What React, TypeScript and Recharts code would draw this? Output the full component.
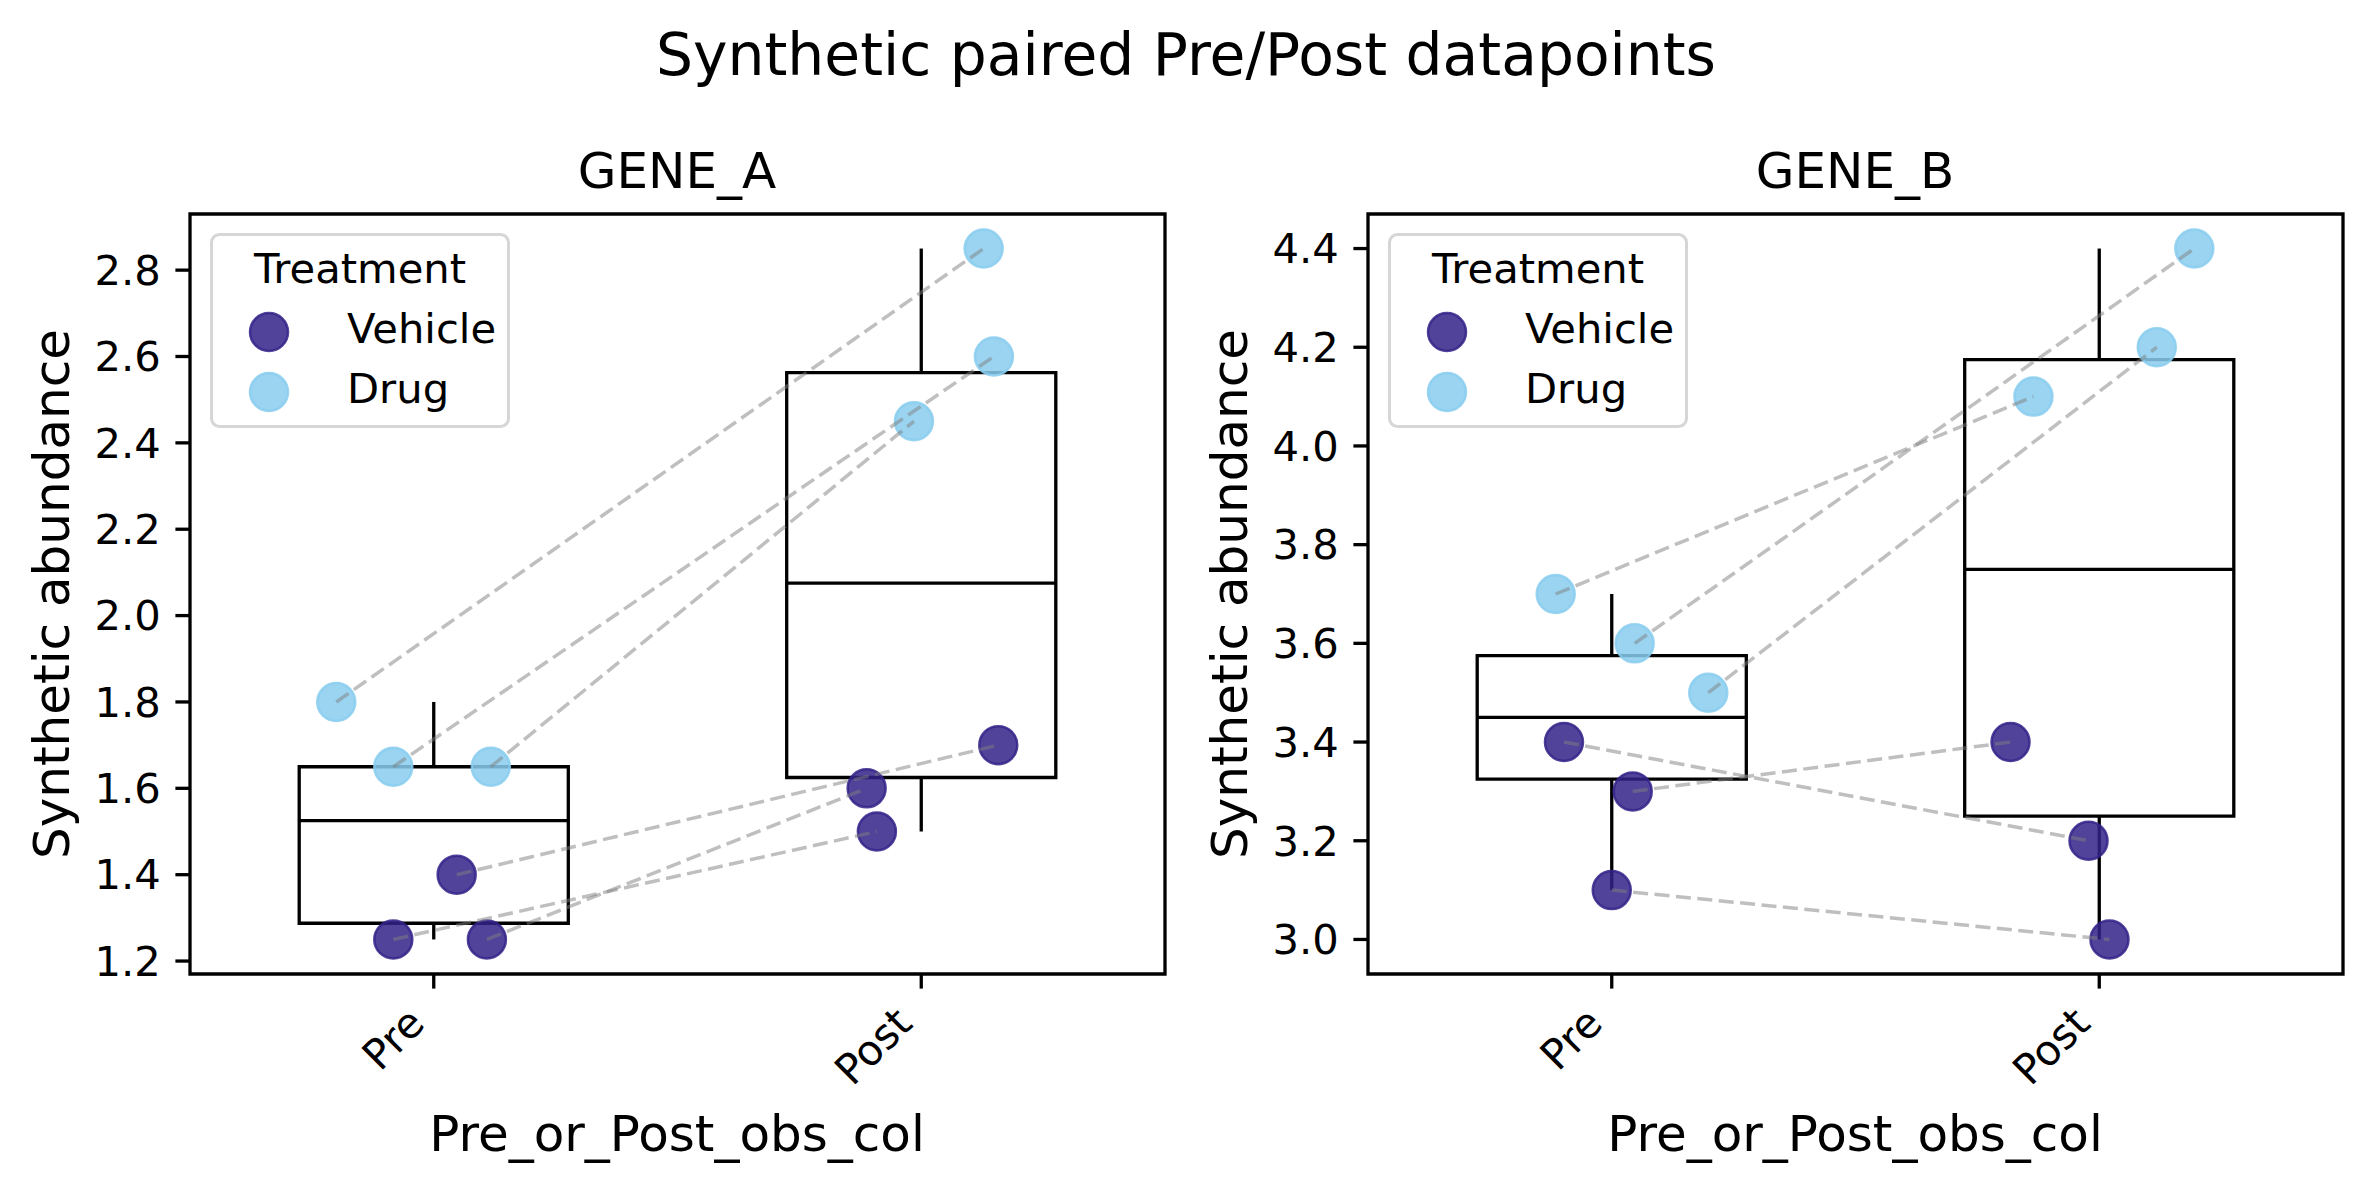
import React from "react";
import {
  ComposedChart,
  Scatter,
  XAxis,
  YAxis,
  ReferenceArea,
  ReferenceLine,
  Legend,
} from "recharts";

const FONT = "DejaVu Sans, sans-serif";
const CATEGORIES = ["Pre", "Post"];
const TREATMENTS = ["Vehicle", "Drug"];
const COLORS: Record<string, string> = { Vehicle: "#332288", Drug: "#88CCEE" };

// GENE_A values, one entry per subject (pre and post share the index)
const A_VEHICLE_PRE = [1.4, 1.25, 1.25];
const A_VEHICLE_POST = [1.7, 1.5, 1.6];
const A_DRUG_PRE = [1.8, 1.65, 1.65];
const A_DRUG_POST = [2.85, 2.6, 2.45];
// horizontal jitter of each point around its category
const A_VEHICLE_PRE_JIT = [0.047, -0.083, 0.109];
const A_VEHICLE_POST_JIT = [0.158, -0.091, -0.112];
const A_DRUG_PRE_JIT = [-0.2, -0.083, 0.117];
const A_DRUG_POST_JIT = [0.128, 0.149, -0.015];

// GENE_B
const B_VEHICLE_PRE = [3.4, 3.3, 3.1];
const B_VEHICLE_POST = [3.2, 3.4, 3.0];
const B_DRUG_PRE = [3.7, 3.6, 3.5];
const B_DRUG_POST = [4.1, 4.4, 4.2];
const B_VEHICLE_PRE_JIT = [-0.098, 0.043, 0.0];
const B_VEHICLE_POST_JIT = [-0.022, -0.182, 0.021];
const B_DRUG_PRE_JIT = [-0.115, 0.047, 0.198];
const B_DRUG_POST_JIT = [-0.135, 0.195, 0.118];

const A_TICKS = [1.2, 1.4, 1.6, 1.8, 2.0, 2.2, 2.4, 2.6, 2.8];
const B_TICKS = [3.0, 3.2, 3.4, 3.6, 3.8, 4.0, 4.2, 4.4];

const BOX_HALF = 0.276;
const LW = 3.3;

function quantile(vals: number[], q: number) {
  const s = [...vals].sort((a, b) => a - b);
  const pos = (s.length - 1) * q;
  const lo = Math.floor(pos);
  const hi = Math.ceil(pos);
  return s[lo] + (s[hi] - s[lo]) * (pos - lo);
}

const dot = (color: string) => (props: any) => (
  <circle
    cx={props.cx}
    cy={props.cy}
    r={19}
    fill={color}
    fillOpacity={0.85}
    stroke={color}
    strokeOpacity={0.85}
    strokeWidth={2.5}
  />
);

const XTick = (props: any) => {
  const { x, y, payload } = props;
  const ax = x - 7;
  const ay = y + 37;
  return (
    <text
      x={ax}
      y={ay}
      transform={`rotate(-45 ${ax} ${ay})`}
      textAnchor="end"
      fontSize={41.7}
      fontFamily={FONT}
      fill="#000"
    >
      {CATEGORIES[payload.value]}
    </text>
  );
};

const LegendBox = () => (
  <svg width={300} height={195} style={{ display: "block" }}>
    <rect x={1.5} y={1.5} width={297} height={192} rx={8} fill="#fff" fillOpacity={0.8} stroke="#d6d6d6" strokeWidth={3} />
    <text x={150} y={50} textAnchor="middle" fontSize={41.7} fontFamily={FONT} fill="#000">
      Treatment
    </text>
    {TREATMENTS.map((t, i) => (
      <g key={t}>
        <circle cx={59} cy={99 + i * 60} r={19} fill={COLORS[t]} fillOpacity={0.85} stroke={COLORS[t]} strokeOpacity={0.85} strokeWidth={2.5} />
        <text x={137} y={110 + i * 60} fontSize={41.7} fontFamily={FONT} fill="#000">
          {t}
        </text>
      </g>
    ))}
  </svg>
);

type PanelProps = {
  vehPre: number[];
  vehPost: number[];
  drugPre: number[];
  drugPost: number[];
  vehPreJit: number[];
  vehPostJit: number[];
  drugPreJit: number[];
  drugPostJit: number[];
  ticks: number[];
};

function Panel(p: PanelProps) {
  const all = [...p.vehPre, ...p.vehPost, ...p.drugPre, ...p.drugPost];
  const lo = Math.min(...all);
  const hi = Math.max(...all);
  const pad = (hi - lo) * 0.05;
  const domain: [number, number] = [lo - pad, hi + pad];

  const vehicle = [
    ...p.vehPre.map((y, i) => ({ x: p.vehPreJit[i], y })),
    ...p.vehPost.map((y, i) => ({ x: 1 + p.vehPostJit[i], y })),
  ];
  const drug = [
    ...p.drugPre.map((y, i) => ({ x: p.drugPreJit[i], y })),
    ...p.drugPost.map((y, i) => ({ x: 1 + p.drugPostJit[i], y })),
  ];
  const pairs = [
    ...p.vehPre.map((y, i) => [
      { x: p.vehPreJit[i], y },
      { x: 1 + p.vehPostJit[i], y: p.vehPost[i] },
    ]),
    ...p.drugPre.map((y, i) => [
      { x: p.drugPreJit[i], y },
      { x: 1 + p.drugPostJit[i], y: p.drugPost[i] },
    ]),
  ];
  const groups = [
    [...p.vehPre, ...p.drugPre],
    [...p.vehPost, ...p.drugPost],
  ];

  return (
    <ComposedChart
      width={1186}
      height={1190}
      margin={{ top: 214, right: 21, bottom: 0, left: 80 }}
    >
      <XAxis
        type="number"
        dataKey="x"
        domain={[-0.5, 1.5]}
        ticks={[0, 1]}
        allowDataOverflow
        height={216}
        axisLine={false}
        tickLine={{ stroke: "#000", strokeWidth: LW }}
        tickSize={14.6}
        tickMargin={0}
        tick={<XTick />}
      />
      <YAxis
        type="number"
        dataKey="y"
        domain={domain}
        ticks={p.ticks}
        allowDataOverflow
        width={110}
        axisLine={false}
        tickLine={{ stroke: "#000", strokeWidth: LW }}
        tickSize={14.6}
        tickMargin={14.6}
        tickFormatter={(v: number) => v.toFixed(1)}
        tick={{ fontSize: 41.7, fill: "#000", fontFamily: FONT }}
      />
      {groups.map((g, c) => {
        const q1 = quantile(g, 0.25);
        const med = quantile(g, 0.5);
        const q3 = quantile(g, 0.75);
        return (
          <React.Fragment key={c}>
            <ReferenceArea x1={c - BOX_HALF} x2={c + BOX_HALF} y1={q1} y2={q3} fill="none" stroke="#000" strokeWidth={LW} />
            <ReferenceLine segment={[{ x: c - BOX_HALF, y: med }, { x: c + BOX_HALF, y: med }]} stroke="#000" strokeWidth={LW} />
            <ReferenceLine segment={[{ x: c, y: q3 }, { x: c, y: Math.max(...g) }]} stroke="#000" strokeWidth={LW} />
            <ReferenceLine segment={[{ x: c, y: Math.min(...g) }, { x: c, y: q1 }]} stroke="#000" strokeWidth={LW} />
          </React.Fragment>
        );
      })}
      <ReferenceArea x1={-0.5} x2={1.5} y1={domain[0]} y2={domain[1]} fill="none" stroke="#000" strokeWidth={LW} />
      <Scatter name="Vehicle" data={vehicle} shape={dot(COLORS.Vehicle)} isAnimationActive={false} />
      <Scatter name="Drug" data={drug} shape={dot(COLORS.Drug)} isAnimationActive={false} />
      {pairs.map((pair, i) => (
        <Scatter
          key={`pair-${i}`}
          data={pair}
          shape={() => <g />}
          line={{ stroke: "#808080", strokeOpacity: 0.5, strokeWidth: 3.5, strokeDasharray: "15 6.5" }}
          lineType="joint"
          legendType="none"
          isAnimationActive={false}
        />
      ))}
      <Legend
        layout="horizontal"
        verticalAlign="middle"
        align="center"
        content={() => <LegendBox />}
        wrapperStyle={{ left: 210, top: 233, width: 300, height: 195 }}
      />
    </ComposedChart>
  );
}

const textStyle = { fontFamily: FONT, fill: "#000" };

export default function App() {
  return (
    <div style={{ position: "absolute", left: 0, top: 0, width: 2372, height: 1190, background: "#fff" }}>
      <div style={{ position: "absolute", left: 0, top: 0 }}>
        <Panel
          vehPre={A_VEHICLE_PRE}
          vehPost={A_VEHICLE_POST}
          drugPre={A_DRUG_PRE}
          drugPost={A_DRUG_POST}
          vehPreJit={A_VEHICLE_PRE_JIT}
          vehPostJit={A_VEHICLE_POST_JIT}
          drugPreJit={A_DRUG_PRE_JIT}
          drugPostJit={A_DRUG_POST_JIT}
          ticks={A_TICKS}
        />
      </div>
      <div style={{ position: "absolute", left: 1178, top: 0 }}>
        <Panel
          vehPre={B_VEHICLE_PRE}
          vehPost={B_VEHICLE_POST}
          drugPre={B_DRUG_PRE}
          drugPost={B_DRUG_POST}
          vehPreJit={B_VEHICLE_PRE_JIT}
          vehPostJit={B_VEHICLE_POST_JIT}
          drugPreJit={B_DRUG_PRE_JIT}
          drugPostJit={B_DRUG_POST_JIT}
          ticks={B_TICKS}
        />
      </div>
      <svg width={2372} height={1190} style={{ position: "absolute", left: 0, top: 0, pointerEvents: "none" }}>
        <text x={1186} y={75} textAnchor="middle" fontSize={58.3} {...textStyle}>
          Synthetic paired Pre/Post datapoints
        </text>
        {["GENE_A", "GENE_B"].map((t, i) => {
          const off = i * 1178;
          return (
            <g key={t}>
              <text x={677 + off} y={188} textAnchor="middle" fontSize={50} {...textStyle}>
                {t}
              </text>
              <text x={677 + off} y={1151} textAnchor="middle" fontSize={50} {...textStyle}>
                Pre_or_Post_obs_col
              </text>
              <text
                x={69 + off}
                y={594}
                textAnchor="middle"
                fontSize={50}
                transform={`rotate(-90 ${69 + off} 594)`}
                {...textStyle}
              >
                Synthetic abundance
              </text>
            </g>
          );
        })}
      </svg>
    </div>
  );
}
